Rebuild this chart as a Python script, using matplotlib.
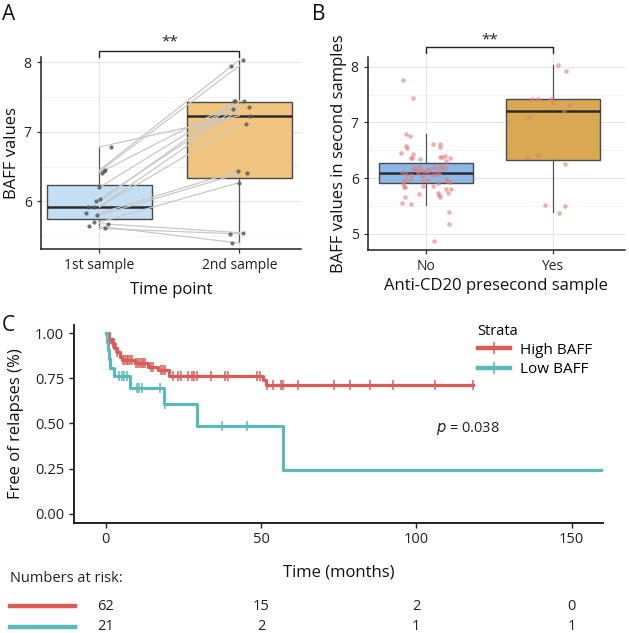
import matplotlib
matplotlib.use("Agg")
import matplotlib.pyplot as plt
import matplotlib.transforms as mtransforms
from matplotlib.lines import Line2D
import numpy as np

plt.rcParams['font.family'] = ['Open Sans', 'DejaVu Sans']

# ---------------- data ----------------
# panel A: paired BAFF values (1st -> 2nd sample)
a_first = [6.45, 6.43, 6.41, 6.78, 6.20, 6.03, 6.00, 5.92, 5.92, 5.83, 5.80, 5.70, 5.68, 5.64, 5.61]
a_second = [8.03, 7.95, 7.44, 7.23, 7.44, 7.36, 7.44, 7.32, 7.11, 6.44, 6.40, 6.27, 5.55, 5.40, 5.53]
a_first_jit = [0.036, 0.029, 0.019, 0.084, 0.0, 0.005, -0.027, -0.084, -0.041, -0.096, -0.019, -0.036, 0.06, -0.077, 0.043]
a_second_jit = [0.024, -0.06, -0.036, 0.077, -0.029, 0.065, 0.034, -0.048, 0.045, -0.012, 0.055, -0.002, 0.027, -0.055, -0.067]
a_labels = ['1st sample', '2nd sample']
# box stats: q1, median, q3, whisker low, whisker high
a_box = [(5.74, 5.92, 6.235, 5.62, 6.785), (6.33, 7.23, 7.43, 5.42, 8.03)]

# panel B: BAFF in second samples by anti-CD20
b_labels = ['No', 'Yes']
b_no = [7.76, 7.44, 6.80, 6.75, 6.58, 6.54, 6.46, 6.44, 6.61, 6.62, 6.56, 6.36, 6.36, 6.35, 6.38,
        6.38, 6.40, 6.37, 6.31, 6.18, 6.19, 6.20, 6.14, 6.10, 6.11, 6.14, 6.17, 6.20, 6.14, 6.22,
        6.18, 6.19, 6.08, 6.07, 6.11, 6.06, 6.07, 6.11, 5.94, 5.90, 5.85, 5.84, 5.99, 5.97, 5.86,
        5.86, 5.92, 5.96, 5.96, 5.98, 5.95, 5.93, 5.81, 5.80, 5.74, 5.74, 5.69, 5.66, 5.71, 5.67,
        5.56, 5.54, 5.39, 5.18, 4.87, 6.15, 6.04, 6.06]
b_no_jit = [-0.185, -0.105, -0.161, -0.132, -0.158, -0.153, -0.198, -0.105, 0.055, 0.109, 0.105, -0.121, -0.111, -0.048, 0.109,
            0.127, 0.151, 0.185, 0.156, -0.103, -0.090, -0.061, -0.042, -0.069, -0.021, -0.002, 0.026, 0.061, 0.082, 0.109,
            0.127, 0.148, 0.097, 0.071, 0.016, -0.121, -0.158, -0.190, -0.180, -0.185, -0.177, -0.169, -0.132, -0.161, -0.024,
            0.050, 0.090, 0.016, -0.029, 0.156, 0.166, 0.185, 0.193, 0.153, 0.172, 0.090, 0.101, 0.111, -0.055, -0.172,
            -0.196, -0.121, 0.180, 0.182, 0.061, -0.080, -0.030, 0.045]
b_yes = [8.03, 7.93, 7.42, 7.42, 7.42, 7.35, 7.31, 7.21, 7.10, 6.42, 6.38, 6.25, 5.52, 5.50, 5.38]
b_yes_jit = [0.046, 0.107, -0.160, -0.115, -0.010, 0.002, 0.133, 0.091, -0.184, -0.115, -0.200, 0.099, -0.062, 0.101, 0.049]
b_box = [(5.92, 6.09, 6.275, 5.52, 6.79), (6.32, 7.21, 7.42, 5.39, 8.03)]

# panel C: Kaplan-Meier steps
red_t = [0, 1.0, 2.0, 2.8, 3.5, 4.5, 5.2, 9.3, 13.6, 17.0, 20.5, 50.8, 51.6, 118.3]
red_s = [1.0, 0.968, 0.945, 0.919, 0.899, 0.871, 0.852, 0.834, 0.815, 0.797, 0.763, 0.742, 0.713, 0.713]
red_cens = [1.5, 2.3, 2.6, 3.2, 3.8, 5.6, 6.2, 6.8, 7.3, 7.9, 8.5, 9.8, 10.4, 11.0, 11.6, 12.1, 12.7,
            14.5, 15.1, 17.8, 18.4, 19.2, 21.8, 23.4, 24.1, 26.6, 27.7, 28.5, 29.5, 33.9, 38.4, 39.5,
            48.6, 49.6, 52.0, 53.8, 56.3, 57.2, 62.0, 73.5, 78.8, 85.0, 92.4, 106.1, 118.3]
teal_t = [0, 0.5, 0.8, 1.1, 1.4, 2.8, 7.8, 18.9, 29.3, 57.0, 160.0]
teal_s = [1.0, 0.952, 0.905, 0.857, 0.81, 0.762, 0.695, 0.61, 0.487, 0.243, 0.243]
teal_cens = [4.2, 5.2, 6.0, 6.8, 10.0, 10.8, 11.7, 17.6, 19.2, 37.5, 45.4]
strata = ['High BAFF', 'Low BAFF']
risk_times = [0, 50, 100, 150]
risk_high = [62, 15, 2, 0]
risk_low = [21, 2, 1, 1]
p_text = '0.038'

RED = '#DB5C57'
TEAL = '#5DB8BB'

W, H = 629, 633
fig = plt.figure(figsize=(W / 100, H / 100), dpi=100)


def fx(x):
    return x / W


def fy(y):
    return 1 - y / H


def style_box_axes(ax):
    for s in ['top', 'right']:
        ax.spines[s].set_visible(False)
    for s in ['left', 'bottom']:
        ax.spines[s].set_linewidth(1.1)
        ax.spines[s].set_color('#222222')
    ax.tick_params(length=3, width=0.9, color='#333333', labelsize=10, labelcolor='#222222')
    ax.set_axisbelow(True)


def draw_boxes(ax, stats, colors, width):
    bstats = [dict(q1=q1, med=m, q3=q3, whislo=lo, whishi=hi, fliers=[]) for q1, m, q3, lo, hi in stats]
    bp = ax.bxp(bstats, positions=[1, 2], widths=width, patch_artist=True, showcaps=False,
                showfliers=False,
                boxprops=dict(edgecolor='#4a4a4a', linewidth=1.0),
                whiskerprops=dict(color='#555555', linewidth=0.9),
                medianprops=dict(color='#2b2b2b', linewidth=1.8))
    for patch, c in zip(bp['boxes'], colors):
        patch.set_facecolor(c)
    return bp


def grid_lines(ax, major, minor):
    for v in major:
        ax.axhline(v, color='#E6E6E6', lw=0.8, zorder=0)
    for v in minor:
        ax.axhline(v, color='#F1F1F1', lw=0.6, zorder=0)
    for v in [1, 2]:
        ax.axvline(v, color='#E6E6E6', lw=0.8, zorder=0)


def bracket(ax, y_low, y_high, y_text):
    ax.plot([1, 1, 2, 2], [y_low, y_high, y_high, y_low], color='#222222', lw=1.0, clip_on=False)
    ax.text(1.5, y_text, '**', ha='center', va='center', fontsize=11, color='#222222', clip_on=False)


# ---------------- panel A ----------------
ax_a = fig.add_axes([fx(40.7), fy(249.3), fx(301) - fx(40.7), (249.3 - 57.3) / H])
style_box_axes(ax_a)
grid_lines(ax_a, [6, 7, 8], [5.5, 6.5, 7.5])
draw_boxes(ax_a, a_box, ['#C4DFF3', '#F0C47F'], 0.755)
for y1, y2 in zip(a_first, a_second):
    ax_a.plot([1, 2], [y1, y2], color='#C8C8C8', lw=0.9, zorder=3)
ax_a.scatter(np.array(a_first_jit) + 1, a_first, s=9, color='#5a5a5a', alpha=0.85, zorder=4, linewidths=0)
ax_a.scatter(np.array(a_second_jit) + 2, a_second, s=9, color='#5a5a5a', alpha=0.85, zorder=4, linewidths=0)
ax_a.set_xlim(0.58, 2.44)
ax_a.set_ylim(5.31, 8.07)
ax_a.set_yticks([6, 7, 8])
ax_a.set_xticks([1, 2])
ax_a.set_xticklabels(a_labels)
ax_a.set_ylabel('BAFF values', fontsize=12, color='#111111', labelpad=3)
ax_a.set_xlabel('Time point', fontsize=12, color='#111111', labelpad=6)
bracket(ax_a, 8.07, 8.16, 8.29)

# ---------------- panel B ----------------
ax_b = fig.add_axes([fx(367.7), fy(250), fx(625) - fx(367.7), (250 - 57.3) / H])
style_box_axes(ax_b)
grid_lines(ax_b, [5, 6, 7, 8], [5.5, 6.5, 7.5])
draw_boxes(ax_b, b_box, ['#8DB7E7', '#D8A952'], 0.745)
ax_b.scatter(np.array(b_no_jit) + 1, b_no, s=11, color='#E37C7C', alpha=0.6, zorder=4, linewidths=0)
ax_b.scatter(np.array(b_yes_jit) + 2, b_yes, s=11, color='#E37C7C', alpha=0.6, zorder=4, linewidths=0)
ax_b.set_xlim(0.536, 2.574)
ax_b.set_ylim(4.71, 8.17)
ax_b.set_yticks([5, 6, 7, 8])
ax_b.set_xticks([1, 2])
ax_b.set_xticklabels(b_labels)
ax_b.set_ylabel('BAFF values in second samples', fontsize=12, color='#111111', labelpad=3)
ax_b.set_xlabel('Anti-CD20 presecond sample', fontsize=12, color='#111111', labelpad=3)
bracket(ax_b, 8.24, 8.36, 8.49)

# ---------------- panel C ----------------
ax_c = fig.add_axes([fx(74), fy(522.7), fx(603.3) - fx(74), (522.7 - 325) / H])
for s in ['top', 'right']:
    ax_c.spines[s].set_visible(False)
for s in ['left', 'bottom']:
    ax_c.spines[s].set_linewidth(1.3)
    ax_c.spines[s].set_color('#111111')
ax_c.tick_params(length=3.5, width=1.0, color='#222222', labelsize=10.5, labelcolor='#222222')

for t, s, cens, col in [(red_t, red_s, red_cens, RED), (teal_t, teal_s, teal_cens, TEAL)]:
    ax_c.step(t, s, where='post', color=col, lw=2.3, zorder=3)
    idx = np.searchsorted(t, cens, side='right') - 1
    ax_c.plot(cens, np.array(s)[idx], ls='none', marker='|', ms=7, mew=1.1, color=col, zorder=4)

ax_c.set_xlim(-10.2, 160.2)
ax_c.set_ylim(-0.05, 1.046)
ax_c.set_xticks(risk_times)
ax_c.set_yticks([0, 0.25, 0.5, 0.75, 1.0])
ax_c.set_yticklabels(['%.2f' % v for v in [0, 0.25, 0.5, 0.75, 1.0]])
ax_c.set_xlabel('Time (months)', fontsize=12, color='#111111', labelpad=12)
ax_c.set_ylabel('Free of relapses (%)', fontsize=12, color='#111111', labelpad=8)
ax_c.text(116.7, 0.474, r'$p$ = ' + p_text, fontsize=10.5, ha='center', va='center', color='#222222')

handles = [Line2D([], [], color=RED, lw=3.2, marker='|', ms=9, mew=1.1),
           Line2D([], [], color=TEAL, lw=3.2, marker='|', ms=9, mew=1.1)]
leg = ax_c.legend(handles, strata, title='Strata', loc='upper left',
                  bbox_to_anchor=(fx(470), fy(316)), bbox_transform=fig.transFigure,
                  frameon=False, fontsize=11, title_fontsize=10.5, handlelength=2.1,
                  handletextpad=0.7, labelspacing=0.3, alignment='left', borderpad=0)
leg._legend_box.sep = 3

# numbers at risk
fig.text(fx(10), fy(579), 'Numbers at risk:', fontsize=10.5, va='center', ha='left', color='#222222')
blend = mtransforms.blended_transform_factory(ax_c.transData, fig.transFigure)
for row_y, counts, col in [(606, risk_high, RED), (626.7, risk_low, TEAL)]:
    fig.add_artist(Line2D([fx(10), fx(75)], [fy(row_y), fy(row_y)], color=col, lw=3.2))
    for t, n in zip(risk_times, counts):
        fig.text(t, fy(row_y), str(n), transform=blend, ha='center', va='center',
                 fontsize=10.5, color='#222222')

# panel letters
fig.text(fx(2), fy(15), 'A', fontsize=15, va='center', ha='left', color='#111111')
fig.text(fx(312), fy(15), 'B', fontsize=15, va='center', ha='left', color='#111111')
fig.text(fx(2), fy(326), 'C', fontsize=15, va='center', ha='left', color='#111111')

fig.savefig('out.png', dpi=100, facecolor='white')
